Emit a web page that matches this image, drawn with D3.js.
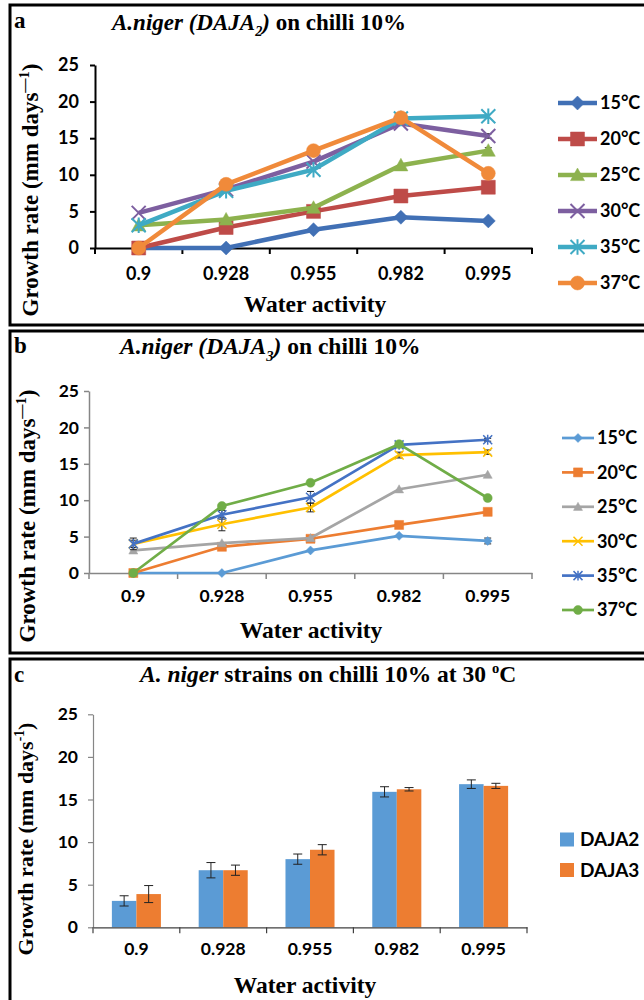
<!DOCTYPE html>
<html>
<head>
<meta charset="utf-8">
<script src="https://cdn.jsdelivr.net/npm/d3@7"></script>
<style>
  body { margin: 0; background: #fff; }
  svg { display: block; }
</style>
</head>
<body>
<svg id="fig" width="644" height="1000"></svg>
<script>
// ---- data ----
const waterActivity = ["0.9", "0.928", "0.955", "0.982", "0.995"];
const temperatures = ["15°C", "20°C", "25°C", "30°C", "35°C", "37°C"];
const yTicks = [0, 5, 10, 15, 20, 25];

// (a) A.niger DAJA2, growth rate per temperature
const daja2_15 = [0, 0, 2.5, 4.2, 3.7];
const daja2_20 = [0, 2.8, 5.0, 7.1, 8.3];
const daja2_25 = [3.1, 3.9, 5.5, 11.3, 13.3];
const daja2_30 = [4.8, 8.0, 11.8, 17.0, 15.3];
const daja2_35 = [3.1, 7.8, 10.7, 17.7, 18.0];
const daja2_37 = [0, 8.7, 13.3, 17.8, 10.2];
const daja2_err25 = [0, 0, 0, 0, 0.4];
const daja2_err30 = [0, 0, 0, 0, 0.3];

// (b) A.niger DAJA3
const daja3_15 = [0, 0, 3.1, 5.1, 4.4];
const daja3_20 = [0, 3.6, 4.7, 6.6, 8.4];
const daja3_25 = [3.1, 4.1, 4.8, 11.5, 13.5];
const daja3_30 = [4.0, 6.7, 9.0, 16.2, 16.6];
const daja3_35 = [4.0, 8.0, 10.4, 17.6, 18.3];
const daja3_37 = [0, 9.2, 12.4, 17.7, 10.3];
const daja3_err15 = [0, 0, 0, 0, 0.4];
const daja3_err30 = [0.5, 0.9, 0.6, 0.4, 0.3];
const daja3_err35 = [0.8, 0.6, 0.8, 0.2, 0.2];

// (c) both strains at 30 °C
const strains = ["DAJA2", "DAJA3"];
const bar_daja2 = [3.1, 6.7, 8.0, 15.9, 16.8];
const bar_daja3 = [3.9, 6.7, 9.1, 16.2, 16.6];
const barErr_daja2 = [0.6, 0.9, 0.6, 0.6, 0.5];
const barErr_daja3 = [1.0, 0.6, 0.6, 0.2, 0.3];

const SERIF = "'Liberation Serif', 'DejaVu Serif', serif";
const SANS = "Lato, 'Open Sans', sans-serif";

const svg = d3.select("#fig");

// ---- helpers ----
function richText(g, x, y, parts, size, anchor) {
  const t = g.append("text")
    .attr("x", x).attr("y", y)
    .attr("font-family", SERIF)
    .attr("font-weight", 700)
    .attr("font-size", size)
    .attr("text-anchor", anchor || "start")
    .attr("fill", "#000");
  let shift = 0;
  parts.forEach(p => {
    const off = p.sub ? size * 0.28 : p.sup ? -size * 0.4 : 0;
    const ts = t.append("tspan").text(p.t).attr("dy", off - shift);
    shift = off;
    if (p.italic) ts.attr("font-style", "italic");
    if (p.sub || p.sup) ts.attr("font-size", size * 0.62);
  });
  return t;
}

function symbolPath(type, s) {
  const h = s / 2;
  switch (type) {
    case "diamond": return `M0,${-h}L${h},0L0,${h}L${-h},0Z`;
    case "square": return `M${-h},${-h}H${h}V${h}H${-h}Z`;
    case "triangle": return `M0,${-h}L${h},${h * 0.8}L${-h},${h * 0.8}Z`;
    case "x": return `M${-h},${-h}L${h},${h}M${h},${-h}L${-h},${h}`;
    case "star": return `M${-h},${-h}L${h},${h}M${h},${-h}L${-h},${h}M0,${-h * 1.1}V${h * 1.1}`;
    default: return d3.symbol(d3.symbolCircle, Math.PI * h * h)();
  }
}

function drawMarker(g, type, s, color, cx, cy) {
  const open = type === "x" || type === "star";
  g.append("path")
    .attr("transform", `translate(${cx},${cy})`)
    .attr("d", symbolPath(type, s))
    .attr("fill", open ? "none" : color)
    .attr("stroke", color)
    .attr("stroke-width", open ? Math.max(1.5, s / 7) : 0.5);
}

function frame(y0, y1, letter, letterY, title, titleX, titleY, titleSize) {
  svg.append("rect")
    .attr("x", 10).attr("y", y0)
    .attr("width", 700).attr("height", y1 - y0)
    .attr("fill", "none").attr("stroke", "#000").attr("stroke-width", 3);
  richText(svg, 14, letterY, [{ t: letter }], 23);
  richText(svg, titleX, titleY, title, titleSize);
}

function yLabel(bx, cy, size, sup) {
  richText(svg.append("g").attr("transform", `translate(${bx},${cy}) rotate(-90)`), 0, 0,
    [{ t: "Growth rate (mm days" }, { t: sup, sup: true }, { t: ")" }], size, "middle");
}

function axes(cfg, x, y) {
  const g = svg.append("g");
  const ya = g.append("g").attr("transform", `translate(${cfg.left},0)`)
    .call(d3.axisLeft(y).tickValues(yTicks).tickSize(5).tickSizeOuter(0).tickPadding(cfg.yPad));
  ya.selectAll("path, line").attr("stroke", cfg.yAxisColor).attr("stroke-width", cfg.axisW);

  const xa = g.append("g").attr("transform", `translate(0,${cfg.bottom})`)
    .call(d3.axisBottom(x).tickSize(0).tickSizeOuter(0).tickPadding(cfg.xPad));
  xa.select(".domain").attr("stroke", cfg.xAxisColor).attr("stroke-width", cfg.axisW);
  xa.selectAll(".bound")
    .data(d3.range(waterActivity.length + 1))
    .join("line")
    .attr("class", "bound")
    .attr("x1", i => x.range()[0] + i * x.step())
    .attr("x2", i => x.range()[0] + i * x.step())
    .attr("y1", 0).attr("y2", 6)
    .attr("stroke", cfg.xAxisColor).attr("stroke-width", cfg.axisW);

  g.selectAll(".tick text")
    .attr("font-family", SANS).attr("font-weight", 700)
    .attr("font-size", cfg.tickSize).attr("fill", "#000");

  richText(svg, cfg.xLabelX, cfg.xLabelY, [{ t: "Water activity" }], 23.5, "middle");
}

function errorBar(g, cx, vy, e, y, cap) {
  if (!e) return;
  const top = y(vy + e), bot = y(vy - e);
  g.append("path")
    .attr("d", `M${cx},${top}V${bot}M${cx - cap},${top}H${cx + cap}M${cx - cap},${bot}H${cx + cap}`)
    .attr("stroke", "#222").attr("stroke-width", 1).attr("fill", "none");
}

// ---- line panels ----
function lineChart(cfg, series) {
  const x = d3.scaleBand().domain(waterActivity).range([cfg.left, cfg.right]);
  const y = d3.scaleLinear().domain([0, 25]).range([cfg.bottom, cfg.top]);
  axes(cfg, x, y);

  const cx = i => x(waterActivity[i]) + x.bandwidth() / 2;
  const line = d3.line().x((d, i) => cx(i)).y(d => y(d));
  const plot = svg.append("g");

  series.forEach(s => {
    const g = plot.append("g");
    g.append("path").attr("d", line(s.values))
      .attr("fill", "none").attr("stroke", s.color)
      .attr("stroke-width", cfg.lineW).attr("stroke-linejoin", "round");
    if (s.err) s.values.forEach((v, i) => errorBar(g, cx(i), v, s.err[i], y, 3.5));
    s.values.forEach((v, i) => drawMarker(g, s.marker, cfg.markerS, s.color, cx(i), y(v)));
  });

  // legend
  const lg = svg.append("g");
  series.forEach((s, i) => {
    const ly = cfg.legY + i * cfg.legStep;
    lg.append("line").attr("x1", cfg.legX0).attr("x2", cfg.legX1)
      .attr("y1", ly).attr("y2", ly)
      .attr("stroke", s.color).attr("stroke-width", cfg.lineW);
    drawMarker(lg, s.marker, cfg.markerS, s.color, (cfg.legX0 + cfg.legX1) / 2, ly);
    lg.append("text").attr("x", cfg.legX1 + 3).attr("y", ly).attr("dy", "0.36em")
      .attr("font-family", SANS).attr("font-weight", 700).attr("font-size", cfg.legFont)
      .attr("fill", "#000").text(s.name);
  });
}

// ---- panel a ----
frame(5, 325, "a", 28,
  [{ t: "A.niger (DAJA", italic: true }, { t: "2", italic: true, sub: true }, { t: ")", italic: true }, { t: " on chilli 10%" }],
  112, 30, 23);
yLabel(38, 190, 23, "—1");
const markersA = ["diamond", "square", "triangle", "x", "star", "circle"];
const colorsA = ["#4170B5", "#BE4B48", "#8DB24E", "#7D5FA0", "#3FAAC4", "#F08A3A"];
const valuesA = [daja2_15, daja2_20, daja2_25, daja2_30, daja2_35, daja2_37];
const errA = [null, null, daja2_err25, daja2_err30, null, null];
lineChart({
  left: 95, right: 532, bottom: 248, top: 65, yPad: 11, xPad: 19, tickSize: 18,
  yAxisColor: "#000", xAxisColor: "#000", axisW: 2,
  xLabelX: 315, xLabelY: 312,
  lineW: 4.5, markerS: 14,
  legX0: 558, legX1: 597, legY: 103, legStep: 36, legFont: 18
}, temperatures.map((t, i) => ({ name: t, values: valuesA[i], err: errA[i], color: colorsA[i], marker: markersA[i] })));

// ---- panel b ----
frame(331, 653, "b", 353,
  [{ t: "A.niger (DAJA", italic: true }, { t: "3", italic: true, sub: true }, { t: ")", italic: true }, { t: " on chilli 10%" }],
  120, 354, 23.5);
yLabel(35, 516, 23, "—1");
const markersB = ["diamond", "square", "triangle", "x", "star", "circle"];
const colorsB = ["#5B9BD5", "#ED7D31", "#A5A5A5", "#FFC000", "#4472C4", "#70AD47"];
const valuesB = [daja3_15, daja3_20, daja3_25, daja3_30, daja3_35, daja3_37];
const errB = [daja3_err15, null, null, daja3_err30, daja3_err35, null];
lineChart({
  left: 89, right: 532, bottom: 573, top: 391, yPad: 5, xPad: 17, tickSize: 17.5,
  yAxisColor: "#868686", xAxisColor: "#868686", axisW: 1.5,
  xLabelX: 311, xLabelY: 638,
  lineW: 2.7, markerS: 9,
  legX0: 562, legX1: 594, legY: 438, legStep: 34.4, legFont: 18
}, temperatures.map((t, i) => ({ name: t, values: valuesB[i], err: errB[i], color: colorsB[i], marker: markersB[i] })));

// ---- panel c ----
frame(659, 1010, "c", 682,
  [{ t: "A. ", italic: true }, { t: "niger", italic: true }, { t: " strains on chilli 10% at 30 " }, { t: "o", sup: true }, { t: "C" }],
  140, 682, 23.5);
yLabel(33, 839, 22, "-1");
(function barChart() {
  const cfg = {
    left: 93, right: 527, bottom: 927.3, top: 714.3, yPad: 10, xPad: 15, tickSize: 17.5,
    yAxisColor: "#868686", xAxisColor: "#404040", axisW: 1.2,
    xLabelX: 305, xLabelY: 993
  };
  const x = d3.scaleBand().domain(waterActivity).range([cfg.left, cfg.right]);
  const x1 = d3.scaleBand().domain(strains).range([0, x.bandwidth()]).paddingOuter(0.77);
  const y = d3.scaleLinear().domain([0, 25]).range([cfg.bottom, cfg.top]);
  const colors = d3.scaleOrdinal().domain(strains).range(["#5B9BD5", "#ED7D31"]);
  const vals = { DAJA2: bar_daja2, DAJA3: bar_daja3 };
  const errs = { DAJA2: barErr_daja2, DAJA3: barErr_daja3 };

  const g = svg.append("g");
  strains.forEach(s => {
    g.selectAll(null).data(vals[s]).join("rect")
      .attr("x", (d, i) => x(waterActivity[i]) + x1(s))
      .attr("y", d => y(d))
      .attr("width", x1.bandwidth())
      .attr("height", d => y(0) - y(d))
      .attr("fill", colors(s));
  });
  axes(cfg, x, y);
  strains.forEach(s => {
    vals[s].forEach((v, i) => errorBar(g, x(waterActivity[i]) + x1(s) + x1.bandwidth() / 2, v, errs[s][i], y, 4.5));
  });

  const lg = svg.append("g");
  strains.forEach((s, i) => {
    const ly = 839.5 + i * 30.5;
    lg.append("rect").attr("x", 560).attr("y", ly - 7).attr("width", 14).attr("height", 14).attr("fill", colors(s));
    lg.append("text").attr("x", 580).attr("y", ly).attr("dy", "0.36em")
      .attr("font-family", SANS).attr("font-weight", 700).attr("font-size", 19)
      .attr("fill", "#000").text(s);
  });
})();
</script>
</body>
</html>
